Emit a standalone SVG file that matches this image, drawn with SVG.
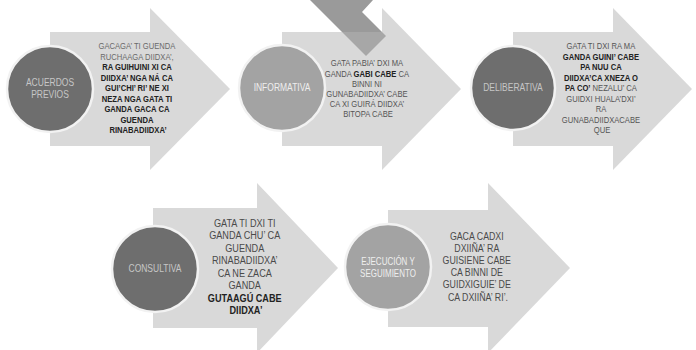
<svg xmlns="http://www.w3.org/2000/svg" width="696" height="350" viewBox="0 0 696 350">
<style>
  .arrow { fill: #b3b3b3; fill-opacity: 0.5; }
  .deco { fill: #9a9a9a; }
  .cdark { fill: #6e6e6e; stroke: #f2f2f2; stroke-width: 2.5; }
  .clight { fill: #a3a3a3; stroke: #f2f2f2; stroke-width: 2.5; }
  .ctext { font-family: "Liberation Sans", Arial, sans-serif; font-size: 10px; text-anchor: middle; }
  .ctd { fill: #c6c6c6; }
  .ctl { fill: #eeeeee; }
  .t9 { font-family: "Liberation Sans", Arial, sans-serif; font-size: 9.3px; text-anchor: middle; fill: #555; }
  .t11 { font-family: "Liberation Sans", Arial, sans-serif; font-size: 11px; text-anchor: middle; fill: #4a4a4a; }
  .b { font-weight: bold; fill: #222; }
  .lt { fill: #6a6a6a; }
</style>
<rect width="696" height="350" fill="#ffffff"/>
<polygon id="decor" class="deco" points="310,0 373,0 362,12 386,36 366,56"/>

<g id="connectors"></g>

<g id="node-acuerdos">
  <polygon class="arrow" points="50,32 150,32 150,8 230,89 150,170 150,146 50,146"/>
  <circle class="cdark" cx="50" cy="89" r="43"/>
  <text class="ctext ctd" transform="translate(50 0) scale(0.85 1)"><tspan x="0" y="86">ACUERDOS</tspan><tspan x="0" y="98">PREVIOS</tspan></text>
  <text class="t9" transform="translate(138 0) scale(0.82 1)">
    <tspan x="0" y="49.5" class="lt">GACAGA’ TI GUENDA</tspan>
    <tspan x="0" y="60" class="lt">RUCHAAGA DIIDXA’,</tspan>
    <tspan x="0" y="70.5" class="b">RA GUIHUINI XI CA</tspan>
    <tspan x="0" y="81" class="b">DIIDXA’ NGA NÁ CA</tspan>
    <tspan x="0" y="91.5" class="b">GUI’CHI’ RI’ NE XI</tspan>
    <tspan x="0" y="102" class="b">NEZA NGA GATA TI</tspan>
    <tspan x="0" y="112.5" class="b">GANDA GACA CA</tspan>
    <tspan x="0" y="123" class="b">GUENDA</tspan>
    <tspan x="0" y="133.5" class="b">RINABADIIDXA’</tspan>
  </text>
</g>

<g id="node-informativa">
  <polygon class="arrow" points="282,32 382,32 382,8 461,89 382,170 382,146 282,146"/>
  <circle class="clight" cx="282" cy="88" r="43"/>
  <text class="ctext ctl" transform="translate(282 0) scale(0.85 1)"><tspan x="0" y="91.5">INFORMATIVA</tspan></text>
  <text class="t9" transform="translate(368 0) scale(0.82 1)">
    <tspan x="0" y="66.5">GATA PABIA’ DXI MA</tspan>
    <tspan x="0" y="76.7">GANDA <tspan class="b">GABI CABE</tspan> CA</tspan>
    <tspan x="0" y="86.9">BINNI NI</tspan>
    <tspan x="0" y="97.1">GUNABADIIDXA’ CABE</tspan>
    <tspan x="0" y="107.3">CA XI GUIRÁ DIIDXA’</tspan>
    <tspan x="0" y="117.5">BITOPA CABE</tspan>
  </text>
</g>

<g id="node-deliberativa">
  <polygon class="arrow" points="513,32 613,32 613,8 692,89 613,170 613,146 513,146"/>
  <circle class="cdark" cx="513" cy="88" r="42"/>
  <text class="ctext ctd" transform="translate(513 0) scale(0.85 1)"><tspan x="0" y="91.5">DELIBERATIVA</tspan></text>
  <text class="t9" transform="translate(602 0) scale(0.82 1)">
    <tspan x="0" y="49.5">GATA TI DXI RA MA</tspan>
    <tspan x="0" y="60" class="b">GANDA GUINI’ CABE</tspan>
    <tspan x="0" y="70.5" class="b">PA NUU CA</tspan>
    <tspan x="0" y="81" class="b">DIIDXA’CA XNEZA O</tspan>
    <tspan x="0" y="91.5"><tspan class="b">PA CO’</tspan> NEZALU’ CA</tspan>
    <tspan x="0" y="102">GUIDXI HUALA’DXI’</tspan>
    <tspan x="0" y="112.5">RA</tspan>
    <tspan x="0" y="123">GUNABADIIDXACABE</tspan>
    <tspan x="0" y="133.5">QUE</tspan>
  </text>
</g>

<g id="node-consultiva">
  <polygon class="arrow" points="153,208 257,208 257,183 338,268 257,353 257,328 153,328"/>
  <circle class="cdark" cx="155" cy="269" r="43"/>
  <text class="ctext ctd" transform="translate(155 0) scale(0.85 1)"><tspan x="0" y="272">CONSULTIVA</tspan></text>
  <text class="t11" transform="translate(246 0) scale(0.83 1)">
    <tspan x="0" y="227">GATA TI DXI TI</tspan>
    <tspan x="0" y="239.5">GANDA CHU’ CA</tspan>
    <tspan x="0" y="252">GUENDA</tspan>
    <tspan x="0" y="264.5">RINABADIIDXA’</tspan>
    <tspan x="0" y="277">CA NE ZACA</tspan>
    <tspan x="0" y="289.5">GANDA</tspan>
    <tspan x="0" y="302" class="b">GUTAAGÚ CABE</tspan>
    <tspan x="0" y="314.5" class="b">DIIDXA’</tspan>
  </text>
</g>

<g id="node-ejecucion">
  <polygon class="arrow" points="388,210 488,210 488,183 570,268 488,353 488,327 388,327"/>
  <circle class="clight" cx="388" cy="267" r="43"/>
  <text class="ctext ctl" transform="translate(388 0) scale(0.8 1)"><tspan x="0" y="265">EJECUCIÓN Y</tspan><tspan x="0" y="277">SEGUIMIENTO</tspan></text>
  <text class="t11" transform="translate(478 0) scale(0.8 1)">
    <tspan x="0" y="240">GACA CADXI</tspan>
    <tspan x="0" y="252">DXIIÑA’ RA</tspan>
    <tspan x="0" y="264">GUISIENE CABE</tspan>
    <tspan x="0" y="276">CA BINNI DE</tspan>
    <tspan x="0" y="288.5">GUIDXIGUIE’ DE</tspan>
    <tspan x="0" y="301">CA DXIIÑA’ RI’.</tspan>
  </text>
</g>
</svg>
